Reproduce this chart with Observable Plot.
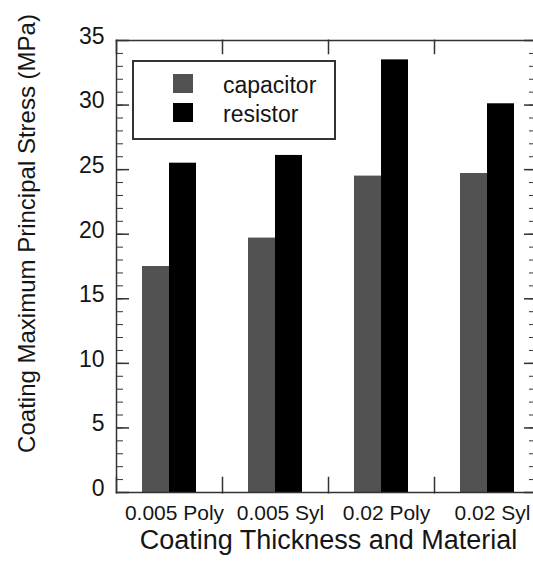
<!DOCTYPE html>
<html>
<head>
<meta charset="utf-8">
<script src="https://cdn.jsdelivr.net/npm/d3@7"></script>
<script src="https://cdn.jsdelivr.net/npm/@observablehq/plot@0.6"></script>
<style>
  html, body { margin: 0; padding: 0; background: #fff; overflow: hidden; }
  #chart { width: 533px; height: 562px; }
</style>
</head>
<body>
<div id="chart"></div>
<script>
const categories = ["0.005 Poly", "0.005 Syl", "0.02 Poly", "0.02 Syl"];
const series = ["capacitor", "resistor"];
const capacitor = [17.5, 19.7, 24.5, 24.7];
const resistor = [25.5, 26.1, 33.5, 30.1];
const yTicks = [0, 5, 10, 15, 20, 25, 30, 35];
const yMinorTicks = [0,1,2,3,4,5,6,7,8,9,10,11,12,13,14,15,16,17,18,19,20,21,22,23,24,25,26,27,28,29,30,31,32,33,34,35];
const seriesColors = ["#525252", "#000000"];
const xTitle = "Coating Thickness and Material";
const yTitle = "Coating Maximum Principal Stress (MPa)";

const data = categories.flatMap((c, i) => [
  {category: c, series: series[0], value: capacitor[i]},
  {category: c, series: series[1], value: resistor[i]}
]);

const ink = "#151515";
const frameColor = "#333";
const font = '"Liberation Sans", Arial, Helvetica, sans-serif';

const plot = Plot.plot({
  width: 533,
  height: 562,
  marginLeft: 114,
  marginRight: -8,
  marginTop: 40,
  marginBottom: 70,
  style: {fontFamily: font, color: ink, background: "#fff", overflow: "visible"},
  fx: {domain: categories, padding: 0, label: null},
  x: {domain: series, paddingInner: 0, paddingOuter: 0.9, axis: null},
  y: {domain: [0, 35], label: null},
  color: {domain: series, range: seriesColors},
  marks: [
    Plot.barY(data, {fx: "category", x: "series", y: "value", fill: "series"}),
    Plot.frame({anchor: "top", stroke: frameColor, strokeWidth: 1.5}),
    Plot.frame({anchor: "bottom", stroke: frameColor, strokeWidth: 1.5}),
    Plot.frame({anchor: "left", facetAnchor: "left", stroke: frameColor, strokeWidth: 1.5}),
    Plot.frame({anchor: "right", facetAnchor: "right", stroke: frameColor, strokeWidth: 1.5}),
    Plot.frame({anchor: "left", insetBottom: 439, stroke: frameColor, strokeWidth: 1.5}),
    Plot.frame({anchor: "left", insetTop: 437, stroke: frameColor, strokeWidth: 1.5}),
    Plot.axisY({ticks: yTicks, tickSize: 0, tickPadding: 12, fontSize: 23, dy: -4, label: null, fill: ink}),
    Plot.axisY({ticks: yTicks, tickSize: -13, fill: "none", label: null, stroke: frameColor, strokeWidth: 1.5}),
    Plot.axisY({ticks: yMinorTicks, tickSize: -7, fill: "none", label: null, stroke: frameColor}),
    Plot.axisY({anchor: "right", ticks: yTicks, tickSize: -17, fill: "none", label: null, stroke: frameColor, strokeWidth: 1.5}),
    Plot.axisY({anchor: "right", ticks: yMinorTicks, tickSize: -12, fill: "none", label: null, stroke: frameColor}),
    Plot.axisFx({anchor: "bottom", tickSize: 0, tickPadding: 13, fontSize: 21, dx: 5, label: null, fill: ink}),
    Plot.text([xTitle], {facet: "super", frameAnchor: "bottom", textAnchor: "middle", lineAnchor: "top", dy: 37, fontSize: 27, fill: ink}),
    Plot.text([yTitle], {facet: "super", frameAnchor: "left", textAnchor: "middle", lineAnchor: "top", rotate: -90, dx: -99, dy: -33, fontSize: 24, fill: ink})
  ]
});

// Legend drawn inside the plot area
const svg = d3.select(plot);
const lg = svg.append("g").attr("class", "legend").attr("font-family", font).attr("text-anchor", "start");
lg.append("rect").attr("x", 133).attr("y", 61).attr("width", 202).attr("height", 78)
  .attr("fill", "#fff").attr("stroke", frameColor).attr("stroke-width", 2);
series.forEach((s, i) => {
  lg.append("rect").attr("x", 173).attr("y", 74 + i * 29).attr("width", 20).attr("height", 19)
    .attr("fill", seriesColors[i]);
  lg.append("text").attr("x", 223).attr("y", 93 + i * 29).attr("font-size", 23)
    .attr("fill", ink).text(s);
});

document.getElementById("chart").appendChild(plot);
</script>
</body>
</html>
